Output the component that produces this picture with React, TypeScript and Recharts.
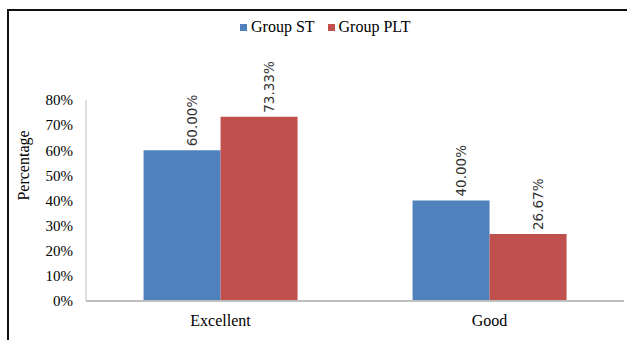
import React from 'react';
import { BarChart, Bar, XAxis, YAxis, Legend, LabelList } from 'recharts';

const categories = ['Excellent', 'Good'];
const groupST = [0.6, 0.4];
const groupPLT = [0.7333, 0.2667];
const yTicks = [0, 0.1, 0.2, 0.3, 0.4, 0.5, 0.6, 0.7, 0.8];
const seriesNames = ['Group ST', 'Group PLT'];
const seriesColors = ['#4F81BD', '#C0504D'];

const data = categories.map((c, i) => ({ name: c, st: groupST[i], plt: groupPLT[i] }));

const serif = '"Liberation Serif", "Times New Roman", serif';
const sans = '"DejaVu Sans", "Open Sans", sans-serif';

const pct2 = (v: number) => `${(v * 100).toFixed(2)}%`;

const BarLabel = (props: any) => {
  const { x, y, width, value } = props;
  const tx = x + width / 2 + 14.5;
  const ty = y - 4;
  return (
    <text
      x={tx}
      y={ty}
      transform={`rotate(-90, ${tx}, ${ty})`}
      textAnchor="start"
      fontFamily={sans}
      fontSize={13.5}
      fill="#333"
    >
      {pct2(value)}
    </text>
  );
};

const LegendContent = () => (
  <div style={{ display: 'flex', alignItems: 'center', fontFamily: serif, fontSize: 16, lineHeight: '18px', color: '#000' }}>
    {seriesNames.map((n, i) => (
      <div key={n} style={{ display: 'flex', alignItems: 'center', marginRight: i === 0 ? 13 : 0 }}>
        <span style={{ display: 'inline-block', width: 7, height: 7, background: seriesColors[i], marginRight: 4 }} />
        <span>{n}</span>
      </div>
    ))}
  </div>
);

const YTitle = (props: any) => {
  const vb = props.viewBox || {};
  const tx = 29;
  const ty = (vb.y ?? 100) + (vb.height ?? 201) / 2 - 35;
  return (
    <text x={tx} y={ty} transform={`rotate(-90, ${tx}, ${ty})`} textAnchor="middle" fontFamily={serif} fontSize={16} fill="#000">
      Percentage
    </text>
  );
};

export default function App() {
  return (
    <div style={{ position: 'fixed', left: 0, top: 0, width: 627, height: 340, background: '#fff', overflow: 'hidden' }}>
      <div style={{ position: 'absolute', left: 7, top: 9, width: 700, height: 400, borderTop: '2px solid #111', borderLeft: '2px solid #111' }} />
      <div style={{ position: 'absolute', left: 0, top: 0 }}>
        <BarChart
          width={627}
          height={340}
          data={data}
          margin={{ top: 100, right: 3, left: 0, bottom: 0 }}
          barCategoryGap="21.4%"
          barGap={0}
        >
          <XAxis
            dataKey="name"
            height={39}
            tickSize={0}
            tickMargin={14}
            tickLine={false}
            axisLine={{ stroke: '#BFBFBF', strokeWidth: 2 }}
            tick={{ fill: '#000', fontSize: 16, fontFamily: serif }}
          />
          <YAxis
            width={86}
            domain={[0, 0.8]}
            ticks={yTicks}
            interval={0}
            tickSize={0}
            tickMargin={13}
            tickLine={false}
            axisLine={{ stroke: '#BFBFBF', strokeWidth: 1 }}
            tickFormatter={(v: number) => `${Math.round(v * 100)}%`}
            tick={{ fill: '#000', fontSize: 15, fontFamily: serif }}
            label={<YTitle />}
          />
          <Legend
            verticalAlign="middle"
            align="center"
            content={<LegendContent />}
            wrapperStyle={{ position: 'absolute', top: 18, left: 240, width: 'auto', height: 'auto' }}
          />
          <Bar dataKey="st" name={seriesNames[0]} fill={seriesColors[0]} isAnimationActive={false}>
            <LabelList dataKey="st" content={<BarLabel />} />
          </Bar>
          <Bar dataKey="plt" name={seriesNames[1]} fill={seriesColors[1]} isAnimationActive={false}>
            <LabelList dataKey="plt" content={<BarLabel />} />
          </Bar>
        </BarChart>
      </div>
    </div>
  );
}
